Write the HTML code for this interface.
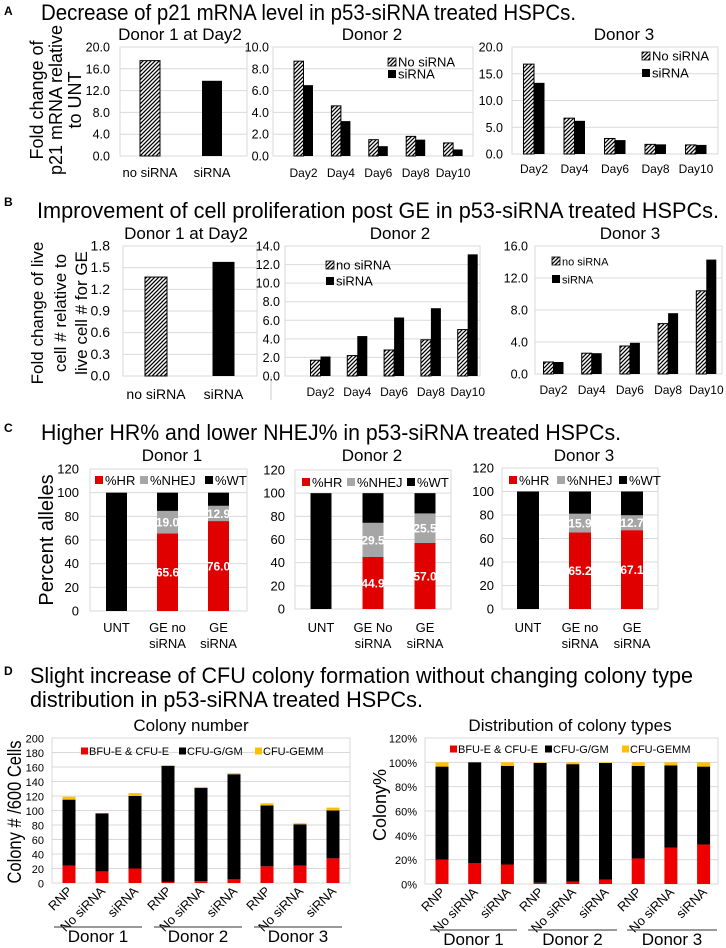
<!DOCTYPE html>
<html><head><meta charset="utf-8">
<style>
html,body{margin:0;padding:0;background:#fff;}
svg{display:block;font-family:"Liberation Sans",Arial,sans-serif;}
</style></head>
<body>
<svg id="fig" xmlns="http://www.w3.org/2000/svg" width="726" height="948" viewBox="0 0 726 948">
<defs>
<pattern id="hatch" patternUnits="userSpaceOnUse" width="4" height="4">
<rect width="4" height="4" fill="#fff"/>
<path d="M-1,1 l2,-2 M0,4 l4,-4 M3,5 l2,-2" stroke="#000" stroke-width="1.3"/>
</pattern>
</defs>
<rect width="726" height="948" fill="#fff"/>
<text x="4" y="15" font-size="12" font-weight="bold">A</text>
<text x="41" y="20" font-size="22" textLength="535" lengthAdjust="spacingAndGlyphs">Decrease of p21 mRNA level in p53-siRNA treated HSPCs.</text>
<text x="4" y="206" font-size="12" font-weight="bold">B</text>
<text x="37" y="218" font-size="22" textLength="682" lengthAdjust="spacingAndGlyphs">Improvement of cell proliferation post GE in p53-siRNA treated HSPCs.</text>
<text x="4" y="432" font-size="12" font-weight="bold">C</text>
<text x="41" y="440" font-size="22" textLength="580" lengthAdjust="spacingAndGlyphs">Higher HR% and lower NHEJ% in p53-siRNA treated HSPCs.</text>
<text x="4" y="675" font-size="12" font-weight="bold">D</text>
<text x="30" y="683" font-size="22" textLength="663" lengthAdjust="spacingAndGlyphs">Slight increase of CFU colony formation without changing colony type</text>
<text x="30" y="707" font-size="22" textLength="393" lengthAdjust="spacingAndGlyphs">distribution in p53-siRNA treated HSPCs.</text>
<text x="180" y="40" font-size="17" text-anchor="middle">Donor 1 at Day2</text>
<text x="372" y="40" font-size="17" text-anchor="middle">Donor 2</text>
<text x="624" y="40" font-size="17" text-anchor="middle">Donor 3</text>
<text x="186" y="239" font-size="17" text-anchor="middle">Donor 1 at Day2</text>
<text x="400" y="239" font-size="17" text-anchor="middle">Donor 2</text>
<text x="630" y="239" font-size="17" text-anchor="middle">Donor 3</text>
<text x="172" y="461" font-size="17" text-anchor="middle">Donor 1</text>
<text x="372" y="461" font-size="17" text-anchor="middle">Donor 2</text>
<text x="584" y="461" font-size="17" text-anchor="middle">Donor 3</text>
<text x="191" y="731" font-size="17" text-anchor="middle">Colony number</text>
<text x="570" y="731" font-size="17" text-anchor="middle">Distribution of colony types</text>
<g font-size="18" text-anchor="middle">
<text transform="translate(43,100) rotate(-90)">Fold change of</text>
<text transform="translate(62,100) rotate(-90)">p21 mRNA relative</text>
<text transform="translate(81,100) rotate(-90)">to UNT</text>
</g>
<g font-size="17" text-anchor="middle">
<text transform="translate(43,313) rotate(-90)">Fold change of live</text>
<text transform="translate(66,313) rotate(-90)">cell # relative to</text>
<text transform="translate(87,313) rotate(-90)">live cell # for GE</text>
</g>
<text transform="translate(53,540) rotate(-90)" font-size="20" text-anchor="middle">Percent alleles</text>
<text transform="translate(21,812) rotate(-90)" font-size="19" text-anchor="middle" textLength="143" lengthAdjust="spacingAndGlyphs">Colony # /600 Cells</text>
<text transform="translate(386,805) rotate(-90)" font-size="18" text-anchor="middle">Colony%</text>
<line x1="271" y1="376" x2="271" y2="400" stroke="#ccc"/>
</svg>
<script>
const a1Cats = ['no  siRNA', 'siRNA'];
const a1Vals = [17.5, 13.8];
const a1Ticks = [0, 4, 8, 12, 16, 20];
const dayCats = ['Day2', 'Day4', 'Day6', 'Day8', 'Day10'];
const a2No = [8.7, 4.6, 1.5, 1.8, 1.2];
const a2Si = [6.5, 3.2, 0.9, 1.5, 0.6];
const a2Ticks = [0, 2, 4, 6, 8, 10];
const a3No = [16.8, 6.7, 2.9, 1.8, 1.7];
const a3Si = [13.3, 6.2, 2.6, 1.8, 1.7];
const a3Ticks = [0, 5, 10, 15, 20];
const b1Cats = ['no siRNA', 'siRNA'];
const b1Vals = [1.37, 1.58];
const b1Ticks = [0, 0.3, 0.6, 0.9, 1.2, 1.5, 1.8];
const b2No = [1.7, 2.2, 2.8, 3.9, 5.0];
const b2Si = [2.1, 4.3, 6.3, 7.3, 13.1];
const b2Ticks = [0, 2, 4, 6, 8, 10, 12, 14];
const b3No = [1.5, 2.6, 3.5, 6.3, 10.4];
const b3Si = [1.5, 2.6, 3.9, 7.6, 14.3];
const b3Ticks = [0, 4, 8, 12, 16];
const cCats1 = [['UNT'], ['GE no', 'siRNA'], ['GE', 'siRNA']];
const cCats2 = [['UNT'], ['GE No', 'siRNA'], ['GE', 'siRNA']];
const cTicks = [0, 20, 40, 60, 80, 100, 120];
const c1HR = [0, 65.6, 76.0];
const c1NHEJ = [0, 19.0, 12.9];
const c1WT = [100, 15.4, 11.1];
const c2HR = [0, 44.9, 57.0];
const c2NHEJ = [0, 29.5, 25.5];
const c2WT = [100, 25.6, 17.5];
const c3HR = [0, 65.2, 67.1];
const c3NHEJ = [0, 15.9, 12.7];
const c3WT = [100, 18.9, 20.2];
const dCats = ['RNP', 'No siRNA', 'siRNA', 'RNP', 'No siRNA', 'siRNA', 'RNP', 'No siRNA', 'siRNA'];
const dDonors = ['Donor 1', 'Donor 2', 'Donor 3'];
const dlRed = [24, 16, 20, 1.5, 2.5, 5, 23, 24, 34];
const dlBlack = [91, 80, 100, 160, 128.5, 145, 84, 57, 66];
const dlYellow = [4, 0.5, 4, 1, 1.5, 1.5, 3, 1.5, 4];
const dlTicks = [0, 20, 40, 60, 80, 100, 120, 140, 160, 180, 200];
const drRed = [20, 17, 16, 1, 2, 3.5, 21, 30, 32.5];
const drBlack = [76.5, 83, 81, 98.5, 96.5, 96, 76, 67.5, 64];
const drYellow = [3.5, 0, 3, 0.5, 1.5, 0.5, 3, 2.5, 3.5];
const drTicks = [0, 20, 40, 60, 80, 100, 120];

const NS = 'http://www.w3.org/2000/svg';
const svg = document.getElementById('fig');
function mk(tag, attrs, parent, name) {
  const e = document.createElementNS(NS, tag);
  for (const k in attrs) e.setAttribute(k, attrs[k]);
  
  
  (parent || svg).appendChild(e);
  return e;
}
function txt(x, y, s, size, anchor, name, extra) {
  const t = mk('text', Object.assign({x: x, y: y, 'font-size': size, 'text-anchor': anchor || 'start'}, extra || {}), svg, name);
  t.textContent = s;
  return t;
}
function yScale(c) { return v => c.y0 - v / c.max * (c.y0 - c.yt); }
function cx(c, i) { return c.c0 + c.step * i; }
function frame(c, ticks, fmt, id) {
  const y = yScale(c);
  ticks.forEach((t, i) => {
    if (i > 0) mk('line', {x1: c.x0, x2: c.x1, y1: y(t), y2: y(t), stroke: '#d9d9d9', 'stroke-width': 1}, svg, id + '-gridline');
    txt(c.lx, y(t) + 4.5, fmt(t), c.tf || 12.5, 'end', id + '-y-tick-label');
  });
  mk('rect', {x: c.x0, y: c.yt, width: c.x1 - c.x0, height: c.y0 - c.yt, fill: 'none', stroke: '#d9d9d9'}, svg, id + '-plot-border');
}
function bar(x, yTop, w, yBot, fill, name) {
  return mk('rect', {x: x, y: yTop, width: w, height: Math.max(0, yBot - yTop), fill: fill, stroke: fill === 'url(#hatch)' ? '#000' : 'none', 'stroke-width': 1}, svg, name);
}
const f1 = v => v.toFixed(1);
const f0 = v => String(v);
const fp = v => v + '%';

function single(c, cats, vals, ticks, fmt, id, labY, labSize) {
  frame(c, ticks, fmt, id);
  const y = yScale(c);
  vals.forEach((v, i) => {
    bar(cx(c, i) - c.w / 2, y(v), c.w, c.y0, i === 0 ? 'url(#hatch)' : '#000', id + '-bar-' + i);
    txt(cx(c, i), labY, cats[i], labSize, 'middle', id + '-x-label', {'xml:space': 'preserve'});
  });
}
function grouped(c, cats, no, si, ticks, fmt, id, labY, leg, noLabel) {
  frame(c, ticks, fmt, id);
  const y = yScale(c);
  cats.forEach((k, i) => {
    bar(cx(c, i) - c.w, y(no[i]), c.w, c.y0, 'url(#hatch)', id + '-bar-nosirna');
    bar(cx(c, i), y(si[i]), c.w, c.y0, '#000', id + '-bar-sirna');
    txt(cx(c, i), labY, k, 12, 'middle', id + '-x-label');
  });
  mk('rect', {x: leg.x, y: leg.y1 - 4, width: 8, height: 8, fill: 'url(#hatch)', stroke: '#000', 'stroke-width': 0.8}, svg, id + '-legend-swatch-nosirna');
  txt(leg.x + 10, leg.y1 + 4.5, noLabel, leg.f, 'start', id + '-legend-nosirna');
  mk('rect', {x: leg.x, y: leg.y2 - 4, width: 8, height: 8, fill: '#000'}, svg, id + '-legend-swatch-sirna');
  txt(leg.x + 10, leg.y2 + 4.5, 'siRNA', leg.f, 'start', id + '-legend-sirna');
}
function stackedC(c, cats, hr, nh, wt, id, leg) {
  frame(c, cTicks, f0, id);
  const y = yScale(c);
  cats.forEach((lines, i) => {
    const x = cx(c, i) - c.w / 2;
    const a = hr[i], b = a + nh[i], d = b + wt[i];
    bar(x, y(a), c.w, c.y0, '#e00000', id + '-bar-hr');
    bar(x, y(b), c.w, y(a), '#a6a6a6', id + '-bar-nhej');
    bar(x, y(d), c.w, y(b), '#000', id + '-bar-wt');
    if (hr[i] > 0) txt(cx(c, i), (y(0) + y(a)) / 2 + 4.5, hr[i].toFixed(1), 12, 'middle', id + '-hr-value', {fill: '#fff', 'font-weight': 'bold'});
    if (nh[i] > 0) txt(cx(c, i), (y(a) + y(b)) / 2 + 4.5, nh[i].toFixed(1), 12, 'middle', id + '-nhej-value', {fill: '#fff', 'font-weight': 'bold'});
    lines.forEach((s, j) => txt(cx(c, i), 632 + j * 16, s, 13, 'middle', id + '-x-label'));
  });
  const cols = ['#e00000', '#a6a6a6', '#000'], labs = ['%HR', '%NHEJ', '%WT'];
  leg.xs.forEach((lx, j) => {
    mk('rect', {x: lx, y: leg.y - 4, width: 8, height: 8, fill: cols[j]}, svg, id + '-legend-swatch');
    txt(lx + 10, leg.y + 5, labs[j], 13, 'start', id + '-legend-label');
  });
}
function stackedD(c, red, black, yellow, ticks, fmt, id, leg, lineY, donorY, groups) {
  frame(c, ticks, fmt, id);
  const y = yScale(c);
  dCats.forEach((k, i) => {
    const x = cx(c, i) - c.w / 2;
    const a = red[i], b = a + black[i], d = b + yellow[i];
    bar(x, y(a), c.w, c.y0, '#ee0000', id + '-bar-bfu');
    bar(x, y(b), c.w, y(a), '#000', id + '-bar-cfu-gm');
    bar(x, y(d), c.w, y(b), '#ffc000', id + '-bar-cfu-gemm');
    const tx = cx(c, i) + 4, ty = c.y0 + 9;
    txt(tx, ty, k, 13, 'end', id + '-x-label', {transform: 'rotate(-45 ' + tx + ' ' + ty + ')'});
  });
  const cols = ['#ee0000', '#000', '#ffc000'], labs = ['BFU-E & CFU-E', 'CFU-G/GM', 'CFU-GEMM'];
  leg.xs.forEach((lx, j) => {
    mk('rect', {x: lx, y: leg.y - 3.5, width: 7, height: 7, fill: cols[j]}, svg, id + '-legend-swatch');
    txt(lx + 8, leg.y + 4, labs[j], 11, 'start', id + '-legend-label');
  });
  groups.forEach((g, j) => {
    mk('line', {x1: g[0], x2: g[1], y1: lineY, y2: lineY, stroke: '#333', 'stroke-width': 1}, svg, id + '-group-line');
    txt((g[0] + g[1]) / 2, donorY, dDonors[j], 17, 'middle', id + '-group-label');
  });
}

single({x0: 120, x1: 247, y0: 156, yt: 47, max: 20, lx: 110, c0: 150, step: 62, w: 20}, a1Cats, a1Vals, a1Ticks, f1, 'a-donor1', 177, 13);
grouped({x0: 273, x1: 473, y0: 156, yt: 47, max: 10, lx: 269, c0: 303.5, step: 37.4, w: 9.5}, dayCats, a2No, a2Si, a2Ticks, f1, 'a-donor2', 177, {x: 388, y1: 62, y2: 74, f: 13}, 'No siRNA');
grouped({x0: 512, x1: 718, y0: 154, yt: 47, max: 20, lx: 503, c0: 534, step: 40.5, w: 10.5}, dayCats, a3No, a3Si, a3Ticks, f1, 'a-donor3', 173, {x: 642, y1: 56, y2: 73, f: 13}, 'No siRNA');
single({x0: 123, x1: 257, y0: 376, yt: 246, max: 1.8, lx: 110, c0: 156, step: 67.5, w: 22, tf: 14}, b1Cats, b1Vals, b1Ticks, f1, 'b-donor1', 399, 14);
grouped({x0: 285, x1: 480, y0: 376, yt: 246, max: 14, lx: 280, c0: 320.5, step: 36.8, w: 10}, dayCats, b2No, b2Si, b2Ticks, f1, 'b-donor2', 396, {x: 326, y1: 265, y2: 281, f: 13}, 'no siRNA');
grouped({x0: 535, x1: 722, y0: 374, yt: 246, max: 16, lx: 528, c0: 553.5, step: 38.2, w: 10}, dayCats, b3No, b3Si, b3Ticks, f1, 'b-donor3', 394, {x: 552, y1: 261, y2: 279, f: 11}, 'no siRNA');
stackedC({x0: 90, x1: 247, y0: 611, yt: 469, max: 120, lx: 79, c0: 116.5, step: 51, w: 21, tf: 13}, cCats1, c1HR, c1NHEJ, c1WT, 'c-donor1', {y: 480, xs: [95, 140, 205]});
stackedC({x0: 295, x1: 451, y0: 609, yt: 470, max: 120, lx: 285, c0: 321, step: 52, w: 21, tf: 13}, cCats2, c2HR, c2NHEJ, c2WT, 'c-donor2', {y: 482, xs: [302, 347, 407]});
stackedC({x0: 502, x1: 658, y0: 609, yt: 468, max: 120, lx: 494, c0: 528, step: 52, w: 22, tf: 13}, cCats1, c3HR, c3NHEJ, c3WT, 'c-donor3', {y: 480, xs: [509, 557, 619]});
stackedD({x0: 52, x1: 350, y0: 883, yt: 738, max: 200, lx: 44, c0: 69, step: 33, w: 13, tf: 11}, dlRed, dlBlack, dlYellow, dlTicks, f0, 'd-left', {y: 751, xs: [81, 179, 255]}, 927, 942, [[54, 142], [154, 242], [254, 342]]);
stackedD({x0: 425, x1: 718, y0: 884, yt: 738, max: 120, lx: 417, c0: 442, step: 32.7, w: 13, tf: 11}, drRed, drBlack, drYellow, drTicks, fp, 'd-right', {y: 749, xs: [450, 545, 622]}, 930, 945, [[430, 517], [528, 617], [627, 717]]);
</script>
</body></html>
